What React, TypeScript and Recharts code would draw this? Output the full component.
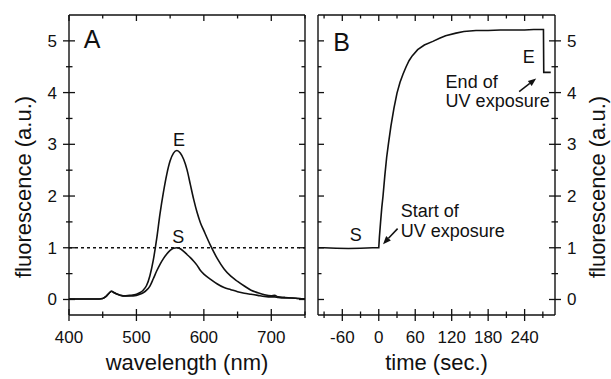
import React from "react";
import { LineChart, Line, XAxis, YAxis, ReferenceLine, ReferenceDot } from "recharts";

// panel A: emission spectra, start (S) and end (E) of UV exposure
const wavelengths = [400, 410, 420, 430, 440, 450, 455, 460, 463, 467, 470, 480, 490, 500, 505, 510, 515, 520, 525, 530, 535, 540, 545, 550, 555, 560, 565, 570, 575, 580, 585, 590, 595, 600, 610, 620, 630, 640, 650, 660, 670, 680, 690, 700, 705, 710, 720, 730, 740, 750];
const spectrumS = [0.01, 0.01, 0.01, 0.01, 0.01, 0.02, 0.06, 0.13, 0.16, 0.13, 0.11, 0.07, 0.07, 0.08, 0.1, 0.13, 0.18, 0.26, 0.4, 0.55, 0.68, 0.79, 0.88, 0.95, 0.99, 1.0, 0.98, 0.93, 0.87, 0.81, 0.74, 0.66, 0.56, 0.49, 0.39, 0.3, 0.23, 0.19, 0.15, 0.12, 0.1, 0.08, 0.06, 0.05, 0.05, 0.04, 0.03, 0.03, 0.02, 0.01];
const spectrumE = [0.01, 0.01, 0.01, 0.01, 0.01, 0.02, 0.06, 0.13, 0.16, 0.13, 0.11, 0.07, 0.08, 0.1, 0.13, 0.18, 0.27, 0.46, 0.76, 1.17, 1.66, 2.07, 2.42, 2.68, 2.83, 2.88, 2.83, 2.71, 2.51, 2.22, 1.93, 1.68, 1.48, 1.33, 1.04, 0.79, 0.59, 0.45, 0.35, 0.26, 0.18, 0.13, 0.09, 0.07, 0.08, 0.05, 0.04, 0.03, 0.02, 0.01];

// panel B: fluorescence vs time
const times = [-100, -90, -70, -50, -30, -10, 0, 1, 3, 5, 7, 10, 13, 16, 20, 25, 30, 35, 40, 45, 50, 55, 64, 75, 89, 100, 110, 127, 140, 160, 180, 200, 220, 240, 255, 271, 271.5, 283];
const kinetics = [1.0, 1.0, 0.99, 0.985, 0.99, 1.0, 1.0, 1.2, 1.5, 1.78, 2.0, 2.4, 2.75, 3.02, 3.35, 3.7, 3.99, 4.2, 4.36, 4.5, 4.62, 4.71, 4.83, 4.92, 4.99, 5.05, 5.1, 5.15, 5.18, 5.2, 5.2, 5.21, 5.21, 5.21, 5.22, 5.22, 4.39, 4.39];

const wlTicks = [400, 450, 500, 550, 600, 650, 700, 750];
const wlLabels = [400, 500, 600, 700];
const timeTicks = [-90, -60, -30, 0, 30, 60, 90, 120, 150, 180, 210, 240, 270];
const timeLabels = [-60, 0, 60, 120, 180, 240];
const fluorTicks = [0, 0.5, 1, 1.5, 2, 2.5, 3, 3.5, 4, 4.5, 5];
const fluorLabels = [0, 1, 2, 3, 4, 5];

const FONT = '"Liberation Sans", Arial, Helvetica, sans-serif';
const INK = "#111";

type Side = "bottom" | "top" | "left" | "right";

// ticks drawn by hand so they can cross the frame like the original
const axisTick = (side: Side, majors: number[], withText: boolean) => (props: any) => {
  const { x, y, payload } = props;
  const v = payload.value;
  const major = majors.includes(v);
  const inLen = major ? 6 : 3.5;
  const outLen = withText ? (major ? 6 : 3) : 0;
  let line;
  let text = null;
  if (side === "bottom") {
    line = <line x1={x} x2={x} y1={y - inLen} y2={y + outLen} />;
    if (withText && major)
      text = <text x={x} y={y + 28} textAnchor="middle">{v}</text>;
  } else if (side === "top") {
    line = <line x1={x} x2={x} y1={y + inLen} y2={y} />;
  } else if (side === "left") {
    line = <line x1={x - outLen} x2={x + inLen} y1={y} y2={y} />;
    if (withText && major)
      text = <text x={x - 12} y={y + 6} textAnchor="end">{v}</text>;
  } else {
    line = <line x1={x - inLen} x2={x + outLen} y1={y} y2={y} />;
    if (withText && major)
      text = <text x={x + 12} y={y + 6} textAnchor="start">{v}</text>;
  }
  return (
    <g stroke={INK} strokeWidth={1.3}>
      {line}
      {text && (
        <g stroke="none" fill={INK} fontFamily={FONT} fontSize={17}>
          {text}
        </g>
      )}
    </g>
  );
};

const textDot = (lines: string[], size: number, anchor: "start" | "middle" | "end", gap = 20) => (p: any) => (
  <text x={p.cx} y={p.cy} fontFamily={FONT} fontSize={size} fill={INK} textAnchor={anchor}>
    {lines.map((l, i) => (
      <tspan key={i} x={p.cx} dy={i === 0 ? 0 : gap}>
        {l}
      </tspan>
    ))}
  </text>
);

const arrow = (p: any) => {
  const { x1, y1, x2, y2 } = p;
  const a = Math.atan2(y2 - y1, x2 - x1);
  const len = 8;
  const w = 3.2;
  const bx = x2 - len * Math.cos(a);
  const by = y2 - len * Math.sin(a);
  const px = -Math.sin(a) * w;
  const py = Math.cos(a) * w;
  return (
    <g>
      <line x1={x1} y1={y1} x2={bx} y2={by} stroke={INK} strokeWidth={1.5} />
      <polygon points={`${x2},${y2} ${bx + px},${by + py} ${bx - px},${by - py}`} fill={INK} />
    </g>
  );
};

const xTitle = (title: string) => (p: any) => {
  const vb = p.viewBox || {};
  return (
    <text x={vb.x + vb.width / 2} y={vb.y + 55} textAnchor="middle" fontFamily={FONT} fontSize={22} fill={INK}>
      {title}
    </text>
  );
};

const yTitle = (title: string, dx: number) => (p: any) => {
  const vb = p.viewBox || {};
  const cx = vb.x + dx;
  const cy = vb.y + vb.height / 2 + 22;
  return (
    <text x={cx} y={cy} transform={`rotate(-90, ${cx}, ${cy})`} textAnchor="middle" fontFamily={FONT} fontSize={22} fill={INK}>
      {title}
    </text>
  );
};

const frame = { stroke: INK, strokeWidth: 1.4 };

export default function App() {
  const spectra = wavelengths.map((wl, i) => ({ wl, s: spectrumS[i], e: spectrumE[i] }));
  const trace = times.map((t, i) => ({ t, f: kinetics[i] }));

  return (
    <div style={{ position: "absolute", left: 0, top: 0, width: 611, height: 379, background: "#fff" }}>
      <div style={{ position: "absolute", left: 0, top: 0 }}>
        <LineChart width={311} height={379} data={spectra} margin={{ top: 14, right: 5, bottom: 63, left: 68 }}>
          <XAxis xAxisId="a" dataKey="wl" type="number" domain={[400, 750]} allowDataOverflow ticks={wlTicks} interval={0}
            orientation="bottom" height={1} tickSize={0} tickMargin={0} tickLine={false} axisLine={frame}
            tick={axisTick("bottom", wlLabels, true)} label={xTitle("wavelength (nm)")} />
          <XAxis xAxisId="a2" dataKey="wl" type="number" domain={[400, 750]} allowDataOverflow ticks={wlTicks} interval={0}
            orientation="top" height={1} tickSize={0} tickMargin={0} tickLine={false} axisLine={frame}
            tick={axisTick("top", wlLabels, false)} />
          <YAxis yAxisId="a" type="number" domain={[-0.3, 5.5]} allowDataOverflow ticks={fluorTicks} interval={0}
            orientation="left" width={1} tickSize={0} tickMargin={0} tickLine={false} axisLine={frame}
            tick={axisTick("left", fluorLabels, true)} label={yTitle("fluorescence (a.u.)", -37)} />
          <YAxis yAxisId="a2" type="number" domain={[-0.3, 5.5]} allowDataOverflow ticks={fluorTicks} interval={0}
            orientation="right" width={1} tickSize={0} tickMargin={0} tickLine={false} axisLine={frame}
            tick={axisTick("right", fluorLabels, false)} />
          <ReferenceLine xAxisId="a" yAxisId="a" y={1} stroke={INK} strokeWidth={1.3} strokeDasharray="3 3" />
          <Line xAxisId="a" yAxisId="a" dataKey="e" type="monotone" stroke={INK} strokeWidth={1.6} dot={false} isAnimationActive={false} />
          <Line xAxisId="a" yAxisId="a" dataKey="s" type="monotone" stroke={INK} strokeWidth={1.6} dot={false} isAnimationActive={false} />
          <ReferenceDot xAxisId="a" yAxisId="a" x={422} y={4.86} r={0} shape={textDot(["A"], 25, "start")} />
          <ReferenceDot xAxisId="a" yAxisId="a" x={563} y={2.96} r={0} shape={textDot(["E"], 18, "middle")} />
          <ReferenceDot xAxisId="a" yAxisId="a" x={562} y={1.09} r={0} shape={textDot(["S"], 18, "middle")} />
        </LineChart>
      </div>
      <div style={{ position: "absolute", left: 311, top: 0 }}>
        <LineChart width={300} height={379} data={trace} margin={{ top: 14, right: 55, bottom: 63, left: 6 }}>
          <XAxis xAxisId="b" dataKey="t" type="number" domain={[-100, 290]} allowDataOverflow ticks={timeTicks} interval={0}
            orientation="bottom" height={1} tickSize={0} tickMargin={0} tickLine={false} axisLine={frame}
            tick={axisTick("bottom", timeLabels, true)} label={xTitle("time (sec.)")} />
          <XAxis xAxisId="b2" dataKey="t" type="number" domain={[-100, 290]} allowDataOverflow ticks={timeTicks} interval={0}
            orientation="top" height={1} tickSize={0} tickMargin={0} tickLine={false} axisLine={frame}
            tick={axisTick("top", timeLabels, false)} />
          <YAxis yAxisId="b" type="number" domain={[-0.3, 5.5]} allowDataOverflow ticks={fluorTicks} interval={0}
            orientation="right" width={1} tickSize={0} tickMargin={0} tickLine={false} axisLine={frame}
            tick={axisTick("right", fluorLabels, true)} label={yTitle("fluorescence (a.u.)", 50)} />
          <YAxis yAxisId="b2" type="number" domain={[-0.3, 5.5]} allowDataOverflow ticks={fluorTicks} interval={0}
            orientation="left" width={1} tickSize={0} tickMargin={0} tickLine={false} axisLine={frame}
            tick={axisTick("left", fluorLabels, false)} />
          <Line xAxisId="b" yAxisId="b" dataKey="f" type="linear" stroke={INK} strokeWidth={1.6} dot={false} isAnimationActive={false} />
          <ReferenceDot xAxisId="b" yAxisId="b" x={-75} y={4.81} r={0} shape={textDot(["B"], 25, "start")} />
          <ReferenceDot xAxisId="b" yAxisId="b" x={-38} y={1.14} r={0} shape={textDot(["S"], 18, "middle")} />
          <ReferenceDot xAxisId="b" yAxisId="b" x={247} y={4.58} r={0} shape={textDot(["E"], 18, "middle")} />
          <ReferenceDot xAxisId="b" yAxisId="b" x={36} y={1.6} r={0} shape={textDot(["Start of", "UV exposure"], 18, "start")} />
          <ReferenceDot xAxisId="b" yAxisId="b" x={110} y={4.09} r={0} shape={textDot(["End of", "UV exposure"], 18, "start", 19)} />
          <ReferenceLine xAxisId="b" yAxisId="b" segment={[{ x: 31, y: 1.37 }, { x: 7, y: 1.07 }]} shape={arrow} />
          <ReferenceLine xAxisId="b" yAxisId="b" segment={[{ x: 231, y: 4.02 }, { x: 259, y: 4.27 }]} shape={arrow} />
        </LineChart>
      </div>
    </div>
  );
}
